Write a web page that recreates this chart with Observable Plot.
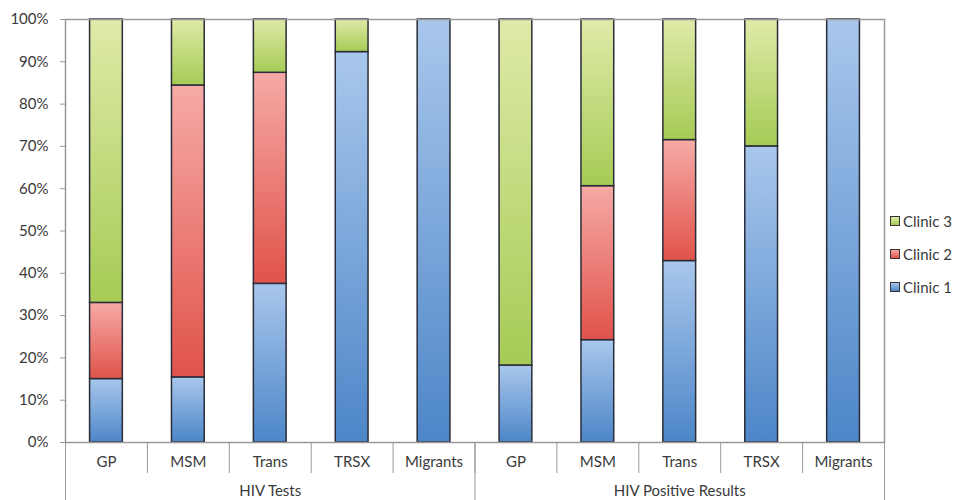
<!DOCTYPE html>
<html>
<head>
<meta charset="utf-8">
<script src="https://cdn.jsdelivr.net/npm/d3@7"></script>
<script src="https://cdn.jsdelivr.net/npm/@observablehq/plot@0.6"></script>
<style>
  html, body { margin: 0; padding: 0; background: #fff; }
  #wrap { position: relative; width: 957px; height: 500px; font-family: Lato, "Open Sans", sans-serif; }
  #legend { position: absolute; left: 890px; top: 204px; font-size: 15px; color: #3a3a3a; }
  #legend .item { display: flex; align-items: center; height: 33px; line-height: 16px; }
  #legend .sw { width: 8px; height: 8px; border: 1px solid #333; margin-right: 3px; }
</style>
</head>
<body>
<div id="wrap"><div id="legend"></div></div>
<script>
const categories = ["GP", "MSM", "Trans", "TRSX", "Migrants"];
const groups = ["HIV Tests", "HIV Positive Results"];
const clinics = ["Clinic 1", "Clinic 2", "Clinic 3"];
const clinic1 = [15, 15.4, 37.5, 92.3, 100, 18.2, 24.2, 42.9, 70, 100];
const clinic2 = [18, 69, 49.9, 0, 0, 0, 36.4, 28.6, 0, 0];
const clinic3 = [67, 15.6, 12.6, 7.7, 0, 81.8, 39.4, 28.5, 30, 0];
const yTicks = [0, 10, 20, 30, 40, 50, 60, 70, 80, 90, 100];

const colors = {
  "Clinic 1": ["#a9c7ec", "#4d86c8"],
  "Clinic 2": ["#f6aaa6", "#e0534a"],
  "Clinic 3": ["#dfeaa8", "#a6cb55"]
};
const gradId = {"Clinic 1": "gBlue", "Clinic 2": "gRed", "Clinic 3": "gGreen"};

// build stacked rows
const labels = [];
groups.forEach(g => categories.forEach(c => labels.push({group: g, cat: c})));
const series = [clinic1, clinic2, clinic3];
const rows = [];
labels.forEach((l, i) => {
  let acc = 0;
  series.forEach((s, k) => {
    const v = s[i];
    if (v > 0) rows.push({i, clinic: clinics[k], y1: acc, y2: acc + v});
    acc += v;
  });
});
const idx = labels.map((_, i) => i);
const boundaries = d3.range(0, labels.length + 1);
const groupBounds = [0, categories.length, labels.length];
const groupCenters = groups.map((g, k) => k * categories.length + categories.length / 2);

const plot = Plot.plot({
  width: 957,
  height: 500,
  marginTop: 19,
  marginBottom: 58,
  marginLeft: 65,
  marginRight: 73,
  style: {fontFamily: "Lato, 'Open Sans', sans-serif", fontSize: "15px", color: "#3a3a3a"},
  x: {type: "linear", domain: [0, labels.length], axis: null},
  y: {domain: [0, 100], axis: null},
  color: {type: "ordinal", domain: clinics, range: clinics.map(c => `url(#${gradId[c]})`)},
  marks: [
    Plot.rectY(rows, {
      x1: d => d.i + 0.3, x2: d => d.i + 0.7,
      y1: "y1", y2: "y2",
      fill: "clinic",
      stroke: "#2a2d38", strokeWidth: 1.5
    }),
    Plot.axisY({ticks: yTicks, tickFormat: d => d + "%", tickSize: 5, tickPadding: 12, stroke: "#999", fill: "#3a3a3a", fontSize: 15}),
    Plot.axisX({ticks: boundaries, tickSize: 31, tickFormat: () => "", stroke: "#999"}),
    Plot.axisX({ticks: groupBounds, tickSize: 58, tickFormat: () => "", stroke: "#999"}),
    Plot.axisX({ticks: idx.map(i => i + 0.5), tickSize: 0, tickPadding: 14, tickFormat: t => labels[Math.floor(t)].cat, fill: "#3a3a3a", fontSize: 15}),
    Plot.axisX({ticks: groupCenters, tickSize: 0, tickPadding: 43, tickFormat: t => groups[Math.floor(t / categories.length)], fill: "#3a3a3a", fontSize: 15}),
    Plot.frame({stroke: "#999", strokeWidth: 1.5})
  ]
});

// gradient definitions
const ns = "http://www.w3.org/2000/svg";
const defs = document.createElementNS(ns, "defs");
clinics.forEach(c => {
  const lg = document.createElementNS(ns, "linearGradient");
  lg.setAttribute("id", gradId[c]);
  lg.setAttribute("x1", "0"); lg.setAttribute("y1", "0");
  lg.setAttribute("x2", "0"); lg.setAttribute("y2", "1");
  [[0, colors[c][0]], [1, colors[c][1]]].forEach(([o, col]) => {
    const s = document.createElementNS(ns, "stop");
    s.setAttribute("offset", o);
    s.setAttribute("stop-color", col);
    lg.appendChild(s);
  });
  defs.appendChild(lg);
});
plot.insertBefore(defs, plot.firstChild);

document.getElementById("wrap").insertBefore(plot, document.getElementById("legend"));

// legend
const legend = document.getElementById("legend");
clinics.slice().reverse().forEach(c => {
  const item = document.createElement("div");
  item.className = "item";
  const sw = document.createElement("span");
  sw.className = "sw";
  sw.style.background = `linear-gradient(${colors[c][0]}, ${colors[c][1]})`;
  item.appendChild(sw);
  item.appendChild(document.createTextNode(c));
  legend.appendChild(item);
});
</script>
</body>
</html>
